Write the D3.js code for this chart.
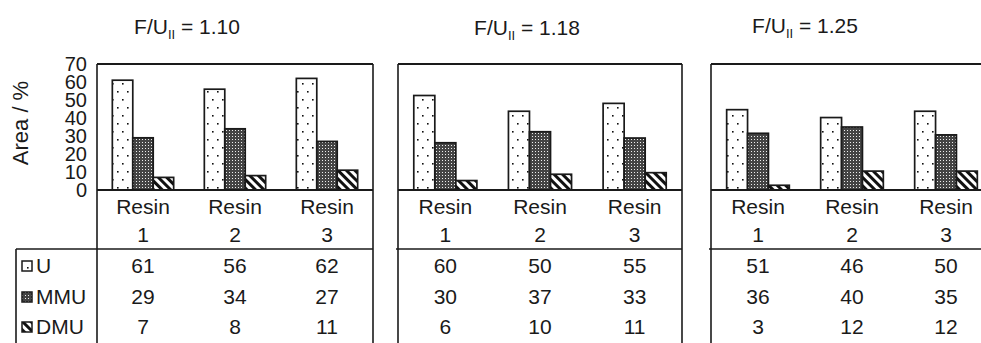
<!DOCTYPE html>
<html>
<head>
<meta charset="utf-8">
<script src="https://cdn.jsdelivr.net/npm/d3@7"></script>
<style>
  body { margin: 0; background: #fff; }
  svg text { font-family: "Liberation Sans", Arial, sans-serif; fill: #1a1a1a; }
</style>
</head>
<body>
<svg id="chart" width="981" height="343"></svg>
<script>
// ---- data ----
const panelTitles = ["1.10", "1.18", "1.25"];
const resins = ["1", "2", "3"];
const seriesNames = ["U", "MMU", "DMU"];
const valuesU = [[61, 56, 62], [60, 50, 55], [51, 46, 50]];
const valuesMMU = [[29, 34, 27], [30, 37, 33], [36, 40, 35]];
const valuesDMU = [[7, 8, 11], [6, 10, 11], [3, 12, 12]];
const yMaxes = [70, 80, 80];
const yTicks = [0, 10, 20, 30, 40, 50, 60, 70];

// ---- layout ----
const panelEdges = [[97, 373], [398, 682], [711, 993]];
const titleX = [187, 527, 805];
const titleY = [34, 35, 33];
const plotTop = 64, baseY = 190, headLine = 249, tableBottom = 343;
const rowY = [266, 297, 327];
const ink = "#1a1a1a";
const fs = 21;

const svg = d3.select("#chart");
const defs = svg.append("defs");

// U: sparse dots
const pU = defs.append("pattern").attr("id", "pat-U")
  .attr("patternUnits", "userSpaceOnUse").attr("width", 10).attr("height", 16);
pU.append("rect").attr("width", 10).attr("height", 16).attr("fill", "#fff");
pU.append("rect").attr("x", 2).attr("y", 3).attr("width", 1.6).attr("height", 1.6).attr("fill", "#111");
pU.append("rect").attr("x", 7).attr("y", 11).attr("width", 1.6).attr("height", 1.6).attr("fill", "#111");

// MMU: dense dark dotted
const pM = defs.append("pattern").attr("id", "pat-MMU")
  .attr("patternUnits", "userSpaceOnUse").attr("width", 3).attr("height", 3);
pM.append("rect").attr("width", 3).attr("height", 3).attr("fill", "#444");
pM.append("rect").attr("x", 1).attr("y", 1).attr("width", 1).attr("height", 1).attr("fill", "#eee");

// DMU: downward diagonal stripes
const pD = defs.append("pattern").attr("id", "pat-DMU")
  .attr("patternUnits", "userSpaceOnUse").attr("width", 6).attr("height", 6)
  .attr("patternTransform", "rotate(45)");
pD.append("rect").attr("width", 6).attr("height", 6).attr("fill", "#fff");
pD.append("rect").attr("width", 6).attr("height", 3).attr("fill", "#111");

const fills = { U: "url(#pat-U)", MMU: "url(#pat-MMU)", DMU: "url(#pat-DMU)" };

// y label
svg.append("text")
  .attr("transform", "translate(28,123) rotate(-90)")
  .attr("text-anchor", "middle")
  .attr("font-size", 22)
  .text("Area / %");

panelTitles.forEach((title, p) => {
  const [x0, x1] = panelEdges[p];
  const data = seriesNames.map((s, i) => ({
    name: s,
    vals: [valuesU, valuesMMU, valuesDMU][i][p]
  }));

  const x = d3.scaleBand().domain(resins).range([x0, x1]).padding(0);
  const xs = d3.scaleBand().domain(seriesNames).range([0, x.bandwidth()])
    .paddingInner(0).paddingOuter(0.75);
  const y = d3.scaleLinear().domain([0, yMaxes[p]]).range([baseY, plotTop]);

  const g = svg.append("g");

  // title
  const t = g.append("text")
    .attr("x", titleX[p])
    .attr("y", titleY[p])
    .attr("text-anchor", "middle")
    .attr("font-size", 21);
  t.append("tspan").text("F/U");
  t.append("tspan").attr("font-size", 13).attr("dy", 5).text("II");
  t.append("tspan").attr("dy", -5).text(" = " + title);

  // bars
  data.forEach(s => {
    g.selectAll(null)
      .data(resins.map((r, i) => ({ r, v: s.vals[i] })))
      .join("rect")
      .attr("x", d => x(d.r) + xs(s.name))
      .attr("y", d => y(d.v))
      .attr("width", xs.bandwidth())
      .attr("height", d => baseY - y(d.v))
      .attr("fill", fills[s.name])
      .attr("stroke", ink)
      .attr("stroke-width", 1.7);
  });

  // frame: plot box + column borders through the table
  const frame = g.append("g").attr("stroke", ink).attr("fill", "none");
  frame.append("line").attr("x1", x0).attr("x2", x1).attr("y1", plotTop).attr("y2", plotTop).attr("stroke-width", 2);
  frame.append("line").attr("x1", x0).attr("x2", x1).attr("y1", baseY).attr("y2", baseY).attr("stroke-width", 2);
  frame.append("line").attr("x1", x0).attr("x2", x0).attr("y1", plotTop).attr("y2", tableBottom).attr("stroke-width", 1.6);
  frame.append("line").attr("x1", x1).attr("x2", x1).attr("y1", plotTop).attr("y2", tableBottom).attr("stroke-width", 1.6);
  frame.append("line").attr("x1", p === 0 ? 16 : x0 - 2).attr("x2", x1).attr("y1", headLine).attr("y2", headLine).attr("stroke-width", 1.6);
  if (p === 0) {
    frame.append("line").attr("x1", 16).attr("x2", 16).attr("y1", headLine).attr("y2", tableBottom).attr("stroke-width", 1.6);
  }

  // category header
  const head = g.selectAll(null).data(resins).join("text")
    .attr("text-anchor", "middle")
    .attr("font-size", fs)
    .attr("x", d => x(d) + x.bandwidth() / 2);
  head.append("tspan").attr("y", 214).text("Resin");
  head.append("tspan").attr("x", d => x(d) + x.bandwidth() / 2).attr("y", 242).text(d => d);

  // table values
  data.forEach((s, i) => {
    g.selectAll(null).data(s.vals).join("text")
      .attr("x", (d, j) => x(resins[j]) + x.bandwidth() / 2)
      .attr("y", rowY[i])
      .attr("dy", "0.35em")
      .attr("text-anchor", "middle")
      .attr("font-size", fs)
      .text(d => d);
  });

  // y axis on first panel
  if (p === 0) {
    const ay = d3.axisLeft(y).tickValues(yTicks).tickSize(0).tickPadding(10);
    const axg = svg.append("g").attr("transform", `translate(${x0},0)`).call(ay);
    axg.select(".domain").remove();
    axg.selectAll("text").attr("font-size", 20).attr("fill", ink)
      .style("font-family", "'Liberation Sans', Arial, sans-serif");
  }
});

// legend inside the table row labels
const leg = svg.append("g");
seriesNames.forEach((s, i) => {
  leg.append("rect")
    .attr("x", 22).attr("y", rowY[i] - 5)
    .attr("width", 10).attr("height", 10)
    .attr("fill", fills[s]).attr("stroke", ink).attr("stroke-width", 1.5);
  leg.append("text")
    .attr("x", 36).attr("y", rowY[i]).attr("dy", "0.35em")
    .attr("font-size", fs).text(s);
});
</script>
</body>
</html>
